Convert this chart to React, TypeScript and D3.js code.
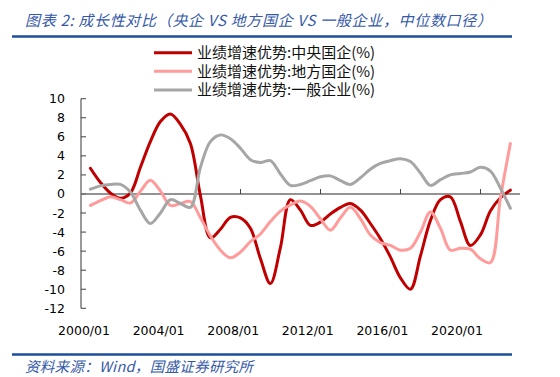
import React from "react";
import * as d3 from "d3";

const DATES = [
  "2000-06-30","2000-12-31","2001-06-30","2001-12-31","2002-06-30","2002-12-31",
  "2003-06-30","2003-12-31","2004-06-30","2004-12-31","2005-06-30","2005-12-31",
  "2006-06-30","2006-12-31","2007-06-30","2007-12-31","2008-06-30","2008-12-31",
  "2009-06-30","2009-12-31","2010-06-30","2010-12-31","2011-06-30","2011-12-31",
  "2012-06-30","2012-12-31","2013-06-30","2013-12-31","2014-06-30","2014-12-31",
  "2015-06-30","2015-12-31","2016-06-30","2016-12-31","2017-06-30","2017-12-31",
  "2018-06-30","2018-12-31","2019-06-30","2019-12-31","2020-06-30","2020-12-31",
  "2021-06-30",
];

const CENTRAL = [
  2.7, 1.2, 0.1, -0.45, 0.1, 2.8, 5.5, 7.6, 8.4, 7.3, 5.3, -0.2,
  -4.6, -3.7, -2.45, -2.5, -3.6, -6.8, -9.4, -5.6, -0.6, -1.7,
  -3.3, -2.95, -2.1, -1.4, -1.0, -1.7, -3.1, -4.7, -6.6, -8.8,
  -10.0, -6.5, -2.8, -0.6, -0.3, -2.9, -5.4, -4.3, -1.8, -0.4, 0.4,
];

const LOCAL = [
  -1.2, -0.7, -0.3, -0.6, -0.95, 0.3, 1.45, 0.3, -1.2, -1.0, -0.8, -2.5,
  -4.4, -5.9, -6.7, -6.1, -5.0, -4.2, -2.9, -1.8, -1.15, -0.75,
  -1.3, -2.6, -3.8, -2.5, -1.4, -2.6, -4.3, -5.1, -5.4, -5.9,
  -5.7, -4.0, -1.9, -3.6, -5.9, -5.7, -5.8, -6.8, -7.2, -0.4, 5.3,
];

const GENERAL = [
  0.5, 0.85, 1.0, 1.0, 0.2, -1.7, -3.1, -2.0, -0.6, -1.0, -1.4, 2.8,
  5.5, 6.2, 5.8, 4.8, 3.6, 3.3, 3.5, 2.1, 0.9, 1.0,
  1.4, 1.8, 1.9, 1.4, 1.0, 1.7, 2.6, 3.2, 3.5, 3.7,
  3.4, 2.2, 0.9, 1.5, 2.0, 2.15, 2.3, 2.8, 2.4, 0.6, -1.5,
];

const SERIES_NAMES = [
  "业绩增速优势:中央国企(%)",
  "业绩增速优势:地方国企(%)",
  "业绩增速优势:一般企业(%)",
];
const X_LABELS = ["2000/01", "2004/01", "2008/01", "2012/01", "2016/01", "2020/01"];
const X_TICK_YEARS = ["2004-01-01", "2008-01-01", "2012-01-01", "2016-01-01", "2020-01-01"];
const Y_TICKS = [10, 8, 6, 4, 2, 0, -2, -4, -6, -8, -10, -12];
const TITLE = "图表 2:  成长性对比（央企 VS 地方国企 VS 一般企业，中位数口径）";
const SOURCE = "资料来源：Wind，国盛证券研究所";

const COLORS = ["#C00000", "#FF9B9B", "#A6A6A6"];

export default function App() {
  const parse = d3.timeParse("%Y-%m-%d");
  const dates = DATES.map((d) => parse(d) as Date);
  const x = d3
    .scaleTime()
    .domain([parse("2000-01-01") as Date, parse("2022-01-01") as Date])
    .range([80.5, 520.5]);
  const y = d3.scaleLinear().domain([-12, 10]).range([308.3, 98.7]);
  const xLab = d3.scalePoint<string>().domain(X_LABELS).range([84, 457]);

  const line = d3
    .line<number>()
    .x((_, i) => x(dates[i]))
    .y((v) => y(v))
    .curve(d3.curveCatmullRom.alpha(0.5));

  const series = [CENTRAL, LOCAL, GENERAL];
  const sans = "'DejaVu Sans', Verdana, sans-serif";
  const cjk = "'Noto Sans CJK SC', sans-serif";
  const blue = "#1D4E9E";
  const textBlue = "#3559A8";

  return (
    <svg
      width={560}
      height={377}
      style={{ position: "absolute", left: 0, top: 0, background: "#fff" }}
    >
      <rect x={0} y={0} width={560} height={377} fill="#fff" />
      <text
        x={25}
        y={25.5}
        fontFamily={cjk}
        fontStyle="italic"
        fontSize={15}
        fill={textBlue}
        textLength={467}
        lengthAdjust="spacing"
      >
        {TITLE}
      </text>
      <line x1={12} x2={512} y1={36.5} y2={36.5} stroke={blue} strokeWidth={2.5} />

      {SERIES_NAMES.map((name, i) => (
        <g key={name}>
          <line
            x1={154}
            x2={192}
            y1={52.7 + i * 18.6}
            y2={52.7 + i * 18.6}
            stroke={COLORS[i]}
            strokeWidth={3}
          />
          <text
            x={197}
            y={52.7 + i * 18.6}
            dy="0.36em"
            fontFamily={cjk}
            fontSize={15}
            fill="#111"
          >
            {name}
          </text>
        </g>
      ))}

      {/* y axis */}
      <line x1={81} x2={81} y1={y(10)} y2={y(-12)} stroke="#808080" strokeWidth={1.6} />
      {Y_TICKS.map((t) => (
        <g key={t}>
          <line x1={81} x2={86} y1={y(t)} y2={y(t)} stroke="#404040" strokeWidth={1} />
          <text
            x={65}
            y={y(t)}
            dy="0.36em"
            textAnchor="end"
            fontFamily={sans}
            fontSize={12.5}
            fill="#000"
          >
            {t}
          </text>
        </g>
      ))}

      {/* zero line */}
      <line x1={81} x2={520} y1={y(0)} y2={y(0)} stroke="#6F6F6F" strokeWidth={1.6} />
      {X_TICK_YEARS.map((d) => {
        const px = x(parse(d) as Date);
        return (
          <line key={d} x1={px} x2={px} y1={y(0) - 5} y2={y(0)} stroke="#404040" strokeWidth={1} />
        );
      })}
      {X_LABELS.map((l) => (
        <text
          key={l}
          x={xLab(l)}
          y={334.5}
          textAnchor="middle"
          fontFamily={sans}
          fontSize={12.5}
          fill="#000"
        >
          {l}
        </text>
      ))}

      {series.map((s, i) => (
        <path
          key={i}
          d={line(s) || ""}
          fill="none"
          stroke={COLORS[i]}
          strokeWidth={3}
          strokeLinejoin="round"
          strokeLinecap="round"
        />
      ))}

      <line x1={12} x2={512} y1={354.5} y2={354.5} stroke={blue} strokeWidth={2.5} />
      <text
        x={25}
        y={371.5}
        fontFamily={cjk}
        fontStyle="italic"
        fontSize={14.5}
        fill={textBlue}
        textLength={228}
        lengthAdjust="spacing"
      >
        {SOURCE}
      </text>
    </svg>
  );
}
